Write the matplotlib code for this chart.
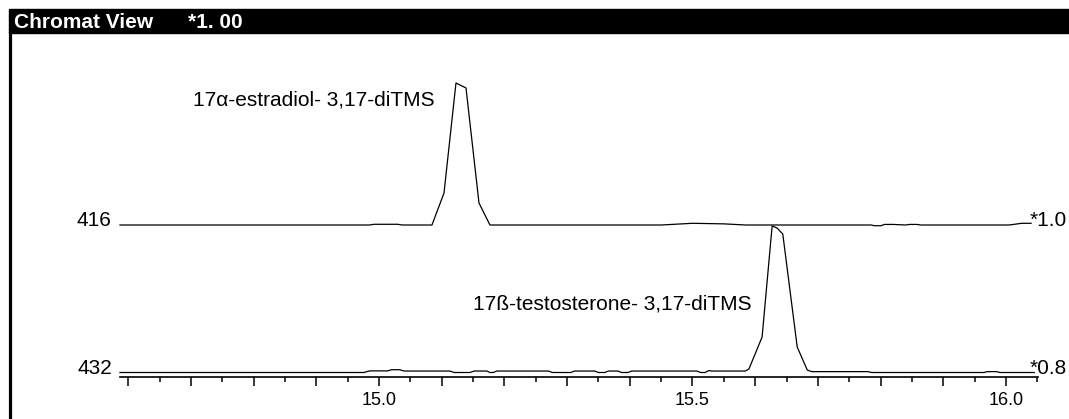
import matplotlib
matplotlib.use('Agg')
import matplotlib.pyplot as plt
from matplotlib.patches import Rectangle
from matplotlib.lines import Line2D
from matplotlib.ticker import MultipleLocator, FuncFormatter

plt.rcParams['font.family'] = ['Liberation Sans', 'DejaVu Sans']

# retention time (min) and relative intensity (% of peak) for each ion trace
t416 = [14.587, 14.985, 14.992, 15.030, 15.037, 15.0845, 15.1037, 15.1228, 15.1388,
        15.1595, 15.177, 15.45, 15.50, 15.55, 15.585, 15.785, 15.790, 15.801, 15.806,
        15.820, 15.840, 15.846, 15.858, 15.864, 16.005, 16.025, 16.040]
i416 = [0, 0, 0.5, 0.5, 0, 0, 22.5, 100, 96.5,
        15.5, 0, 0, 1.2, 0.8, 0, 0, -0.5, -0.5, 0.4,
        0.4, 0, 0.4, 0.4, 0, 0, 1.2, 1.2]

t432 = [14.587, 14.976, 14.985, 15.014, 15.020, 15.033, 15.040, 15.113, 15.120, 15.145,
        15.152, 15.172, 15.177, 15.182, 15.188, 15.270, 15.277, 15.306, 15.312, 15.344,
        15.350, 15.360, 15.366, 15.381, 15.387, 15.397, 15.403, 15.507, 15.513, 15.520,
        15.526, 15.531, 15.584, 15.590, 15.611, 15.627, 15.635, 15.644, 15.667, 15.683,
        15.690, 15.780, 15.785, 15.965, 15.970, 15.985, 15.990, 16.045]
i432 = [0, 0, 1.1, 1.1, 1.9, 1.9, 1.0, 1.0, 0, 0,
        1.0, 1.0, 0, 0, 1.0, 1.0, 0, 0, 1.0, 1.0,
        0, 0, 1.0, 1.0, 0, 0, 1.0, 1.0, 0, 0,
        1.3, 1.0, 1.0, 2.4, 24.2, 100, 98.6, 94.5, 17.4, 1.7,
        0.6, 0.6, 0, 0, 0.6, 0.6, 0, 0]

ion_labels = ['416', '432']
scale_labels = ['*1.0', '*0.8']
peak_names = ['17\u03b1-estradiol- 3,17-diTMS', '17\u00df-testosterone- 3,17-diTMS']
title_left = 'Chromat View'
title_right = '*1. 00'

W, H = 1069, 419
x_lo, x_hi = 14.587, 16.051


def box(x0, x1, y_base, y_top):
    # axes rectangle from pixel positions (y measured from the top)
    return [x0 / W, (H - y_base) / H, (x1 - x0) / W, (y_base - y_top) / H]


fig = plt.figure(figsize=(W / 100, H / 100), dpi=100)
fig.patch.set_facecolor('white')

# title bar and left frame
fig.patches.append(Rectangle((9 / W, (H - 33) / H), 1 - 9 / W, 24 / H,
                             transform=fig.transFigure, color='black', zorder=0))
fig.lines.append(Line2D([9.5 / W, 9.5 / W], [0, (H - 33) / H], transform=fig.transFigure,
                        color='black', linewidth=2.3))
fig.text(14 / W, (H - 22) / H, title_left, color='white', fontsize=15,
         fontweight='bold', va='center', ha='left')
fig.text(188 / W, (H - 22) / H, title_right, color='white', fontsize=15,
         fontweight='bold', va='center', ha='left')

ax1 = fig.add_axes(box(120, 1038, 225, 83))
ax2 = fig.add_axes(box(120, 1038, 372.5, 226), sharex=ax1)

for ax, t, y in [(ax1, t416, i416), (ax2, t432, i432)]:
    ax.patch.set_alpha(0)
    ax.plot(t, y, color='black', linewidth=0.9, clip_on=False)
    ax.set_xlim(x_lo, x_hi)
    ax.set_ylim(0, 100)
    for s in ax.spines.values():
        s.set_visible(False)
    ax.set_yticks([])

ax1.tick_params(axis='x', which='both', bottom=False, labelbottom=False)

ax2.spines['bottom'].set_visible(True)
ax2.spines['bottom'].set_position(('outward', 3.2))
ax2.spines['bottom'].set_linewidth(1.2)
ax2.xaxis.set_major_locator(MultipleLocator(0.1))
ax2.xaxis.set_minor_locator(MultipleLocator(0.05))
ax2.xaxis.set_major_formatter(FuncFormatter(
    lambda v, p: f'{v:.1f}' if abs(v * 2 - round(v * 2)) < 1e-6 else ''))
ax2.tick_params(axis='x', which='major', length=6.5, width=1.1, labelsize=13, pad=4)
ax2.tick_params(axis='x', which='minor', length=3.6, width=1.1)

# ion and scale labels at each baseline
for ax, ion, sc in [(ax1, ion_labels[0], scale_labels[0]), (ax2, ion_labels[1], scale_labels[1])]:
    ax.text(14.574, -1, ion, fontsize=15, ha='right', va='baseline', clip_on=False)
    ax.text(16.038, -1, sc, fontsize=15, ha='left', va='baseline', clip_on=False)

ax1.text(14.703, 88, peak_names[0], fontsize=15, ha='left', va='center')
ax2.text(15.150, 46.8, peak_names[1], fontsize=15, ha='left', va='center')

fig.savefig('out.png', dpi=100)
